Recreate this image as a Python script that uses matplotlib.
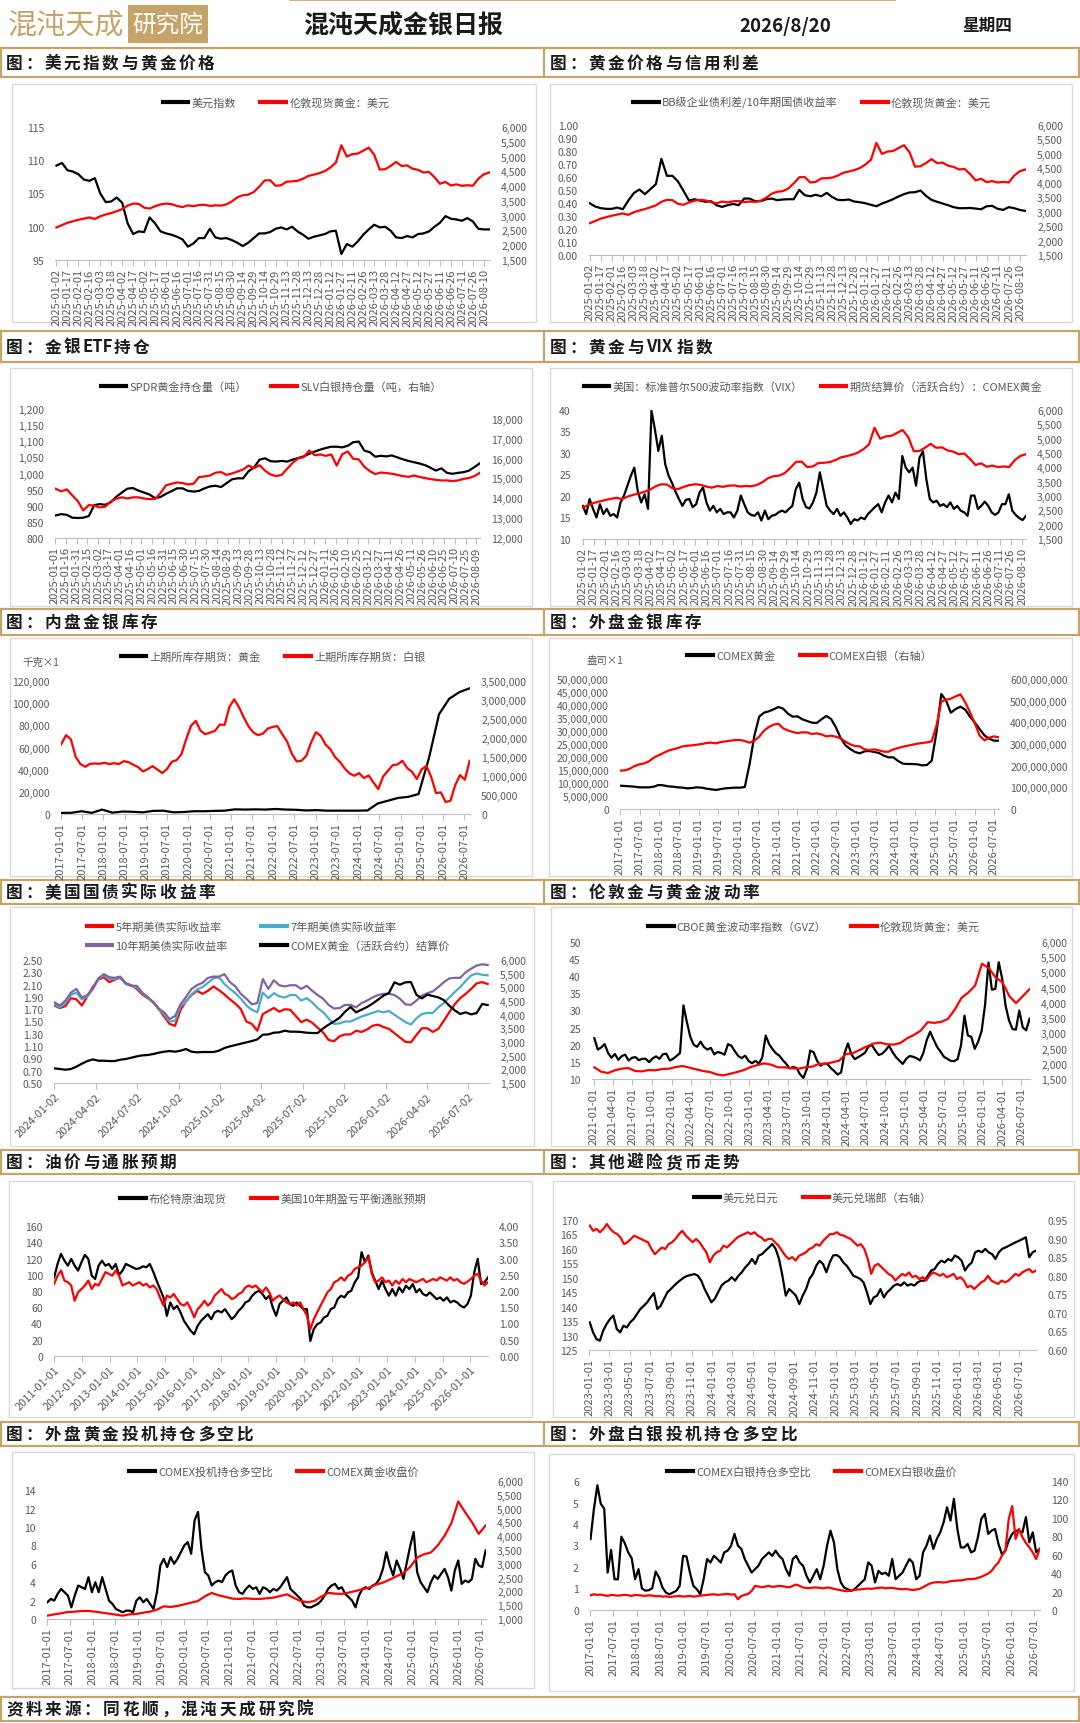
import matplotlib
matplotlib.use("Agg")
import matplotlib.pyplot as plt
import matplotlib.dates as mdates
from matplotlib.ticker import FuncFormatter
from matplotlib.lines import Line2D
from matplotlib.patches import Rectangle
import numpy as np
import pandas as pd
import re

plt.rcParams['font.family'] = ['Liberation Sans Narrow', 'Noto Sans CJK SC', 'DejaVu Sans']
CJK = ['Noto Sans CJK SC', 'DejaVu Sans']

# ---- data ----
gold_2025 = [2602, 2680, 2760, 2810, 2860, 2900, 2940, 2890, 2980, 3040,
             3090, 3150, 3220, 3340, 3410, 3400, 3270, 3240, 3320, 3380,
             3410, 3390, 3330, 3290, 3350, 3320, 3360, 3370, 3330, 3350,
             3340, 3380, 3480, 3620, 3690, 3710, 3800, 3980, 4190, 4200,
             4010, 4030, 4150, 4160, 4180, 4250, 4346, 4390, 4440, 4510,
             4630, 4796, 5381, 5000, 5080, 5100, 5200, 5302, 5060, 4560,
             4571, 4684, 4819, 4680, 4700, 4590, 4550, 4460, 4480, 4300,
             4080, 4140, 4020, 4060, 4010, 4030, 4010, 4250, 4400, 4459]

dxy_2025 = [109.2, 109.6, 108.5, 108.3, 107.9, 107.1, 106.9, 107.3, 105.0, 103.7,
            103.8, 104.4, 103.6, 100.5, 98.9, 99.3, 99.2, 101.4, 100.5, 99.3,
            99.0, 98.8, 98.5, 98.1, 97.0, 97.5, 98.3, 98.3, 99.7, 98.4,
            98.2, 98.3, 98.0, 97.6, 97.1, 97.6, 98.3, 99.0, 99.0, 99.2,
            99.7, 99.9, 99.6, 100.0, 99.3, 98.8, 98.2, 98.5, 98.7, 98.9,
            99.3, 99.4, 95.9, 97.4, 97.0, 97.8, 98.8, 99.6, 100.3, 99.9,
            100.0, 99.4, 98.4, 98.3, 98.6, 98.4, 98.9, 99.0, 99.3, 100.0,
            100.6, 101.6, 101.2, 101.1, 100.9, 101.3, 100.8, 99.7, 99.6, 99.6]

credit_spread = [0.398, 0.373, 0.360, 0.355, 0.355, 0.365, 0.352, 0.419, 0.476, 0.504,
                 0.468, 0.506, 0.545, 0.740, 0.609, 0.609, 0.566, 0.494, 0.419, 0.429,
                 0.419, 0.409, 0.414, 0.383, 0.370, 0.383, 0.393, 0.383, 0.434, 0.434,
                 0.414, 0.414, 0.429, 0.434, 0.422, 0.427, 0.429, 0.429, 0.501, 0.460,
                 0.452, 0.463, 0.452, 0.478, 0.445, 0.424, 0.422, 0.427, 0.411, 0.406,
                 0.398, 0.386, 0.375, 0.396, 0.411, 0.429, 0.450, 0.468, 0.481, 0.483,
                 0.496, 0.455, 0.424, 0.409, 0.396, 0.383, 0.368, 0.360, 0.360, 0.362,
                 0.357, 0.352, 0.375, 0.378, 0.355, 0.347, 0.368, 0.360, 0.347, 0.339]

spdr_gold = [870, 874, 872, 863, 862, 863, 868, 902, 905, 903, 911, 928, 941, 953, 955,
             947, 941, 935, 924, 927, 937, 945, 954, 954, 946, 944, 946, 954, 960, 962,
             958, 970, 982, 985, 985, 1007, 1019, 1043, 1047, 1038, 1037, 1039, 1037,
             1043, 1048, 1053, 1061, 1068, 1074, 1079, 1083, 1083, 1081, 1086, 1097,
             1099, 1071, 1066, 1052, 1055, 1053, 1056, 1050, 1044, 1039, 1035, 1031,
             1026, 1018, 1009, 1016, 1002, 999, 1002, 1004, 1009, 1020, 1032]

slv_silver = [14480, 14350, 14450, 14150, 13860, 13390, 13660, 13630, 13540, 13580,
              13840, 13980, 14050, 13990, 14050, 14050, 13990, 13960, 13960, 14260,
              14650, 14730, 14800, 14770, 14700, 14730, 15070, 15100, 15150, 15290,
              15320, 15180, 15250, 15350, 15450, 15650, 15520, 15670, 15390, 15200,
              15120, 15180, 15490, 15790, 16010, 16070, 16410, 16170, 16210, 16140,
              16210, 15650, 16220, 16360, 15990, 15960, 15590, 15370, 15220, 15300,
              15270, 15240, 15180, 15120, 15080, 15150, 15080, 15020, 14970, 14930,
              14900, 14900, 14870, 14900, 14980, 15020, 15120, 15290]

vix = [17.7, 15.8, 19.3, 17.0, 15.0, 18.1, 15.8, 17.0, 15.4, 15.8,
       15.0, 18.5, 20.1, 22.4, 24.7, 26.6, 21.2, 18.5, 20.4, 17.0,
       39.8, 35.5, 30.5, 34.0, 27.4, 24.7, 23.0, 21.0, 19.3, 17.7,
       19.1, 19.3, 17.4, 18.1, 20.8, 22.0, 18.5, 16.6, 17.7, 16.2,
       17.0, 15.8, 16.2, 16.2, 15.0, 16.6, 20.1, 18.1, 16.2, 15.6,
       15.4, 16.2, 14.3, 16.6, 14.6, 15.4, 15.6, 16.2, 16.6, 16.2,
       17.0, 17.7, 21.6, 23.1, 19.3, 17.4, 17.1, 18.5, 20.8, 25.5,
       21.6, 17.7, 16.6, 15.8, 17.0, 15.4, 16.2, 15.0, 13.5, 14.6,
       14.3, 15.0, 14.6, 15.8, 16.6, 17.4, 18.1, 16.2, 18.5, 20.1,
       18.5, 20.8, 19.3, 29.3, 26.6, 25.5, 26.6, 22.4, 28.9, 30.4,
       23.9, 19.3, 18.5, 18.9, 17.7, 18.1, 17.4, 18.5, 17.0, 17.7,
       16.6, 16.2, 15.4, 20.1, 20.1, 17.0, 17.7, 18.7, 17.7, 16.2,
       15.6, 16.2, 18.1, 18.1, 20.4, 16.6, 15.6, 14.9, 14.4, 15.4]

shfe_gold_stock = [1000, 1100, 2500, 1000, 4000, 1200, 2200, 2000, 1500, 2800,
                   3000, 1500, 1800, 2500, 2500, 2800, 3000, 4200, 4000, 4200,
                   4000, 4500, 4000, 3800, 3200, 3500, 3000, 3000, 3000, 3000,
                   3200, 9500, 12000, 14500, 15500, 18000, 50000, 90000, 104000, 110000,
                   113400]

shfe_silver_stock = [1838000, 2074000, 1969000, 1505000, 1313000, 1243000, 1321000, 1330000, 1321000, 1348000,
                     1313000, 1339000, 1313000, 1391000, 1365000, 1295000, 1234000, 1120000, 1181000, 1260000,
                     1173000, 1076000, 1181000, 1374000, 1418000, 1566000, 1969000, 2319000, 2450000, 2188000,
                     2100000, 2144000, 2188000, 2354000, 2345000, 2818000, 3019000, 2809000, 2538000, 2301000,
                     2144000, 2074000, 2118000, 2249000, 2293000, 2310000, 2100000, 1908000, 1584000, 1383000,
                     1400000, 1531000, 1881000, 2153000, 2056000, 1829000, 1706000, 1496000, 1374000, 1199000,
                     1068000, 1006000, 1076000, 945000, 1015000, 823000, 656000, 989000, 1138000, 1286000,
                     1304000, 1400000, 1208000, 1111000, 919000, 1173000, 1269000, 971000, 551000, 569000,
                     315000, 350000, 761000, 1024000, 901000, 1400000]

comex_gold_stock = [8.97e6, 8.85e6, 8.72e6, 8.59e6, 8.33e6, 8.33e6, 8.33e6, 8.59e6, 9.23e6, 9.10e6,
                    8.72e6, 8.59e6, 8.33e6, 8.21e6, 7.95e6, 8.08e6, 8.33e6, 8.21e6, 7.82e6, 7.56e6,
                    7.31e6, 7.69e6, 7.95e6, 8.08e6, 8.21e6, 8.21e6, 8.46e6, 17.31e6, 28.21e6, 35.51e6,
                    37.05e6, 37.56e6, 38.33e6, 39.23e6, 38.59e6, 36.67e6, 35.51e6, 35.64e6, 34.49e6, 33.85e6,
                    33.21e6, 33.08e6, 34.49e6, 35.77e6, 34.62e6, 31.41e6, 27.31e6, 24.49e6, 23.08e6, 21.92e6,
                    21.41e6, 22.18e6, 22.31e6, 21.92e6, 21.54e6, 20.51e6, 19.87e6, 19.87e6, 18.46e6, 17.44e6,
                    17.31e6, 17.31e6, 17.18e6, 16.79e6, 16.92e6, 18.59e6, 29.49e6, 44.23e6, 41.67e6, 37.05e6,
                    38.46e6, 39.36e6, 38.21e6, 35.51e6, 33.21e6, 30.77e6, 28.33e6, 27.05e6, 26.28e6, 26.28e6]

comex_silver_stock = [176.9e6, 178.4e6, 186.1e6, 198.4e6, 206.1e6, 210.7e6, 219.9e6, 236.9e6, 247.6e6, 258.4e6,
                      269.2e6, 275.3e6, 281.5e6, 289.1e6, 292.2e6, 293.8e6, 296.8e6, 299.9e6, 304.5e6, 306.1e6,
                      303.0e6, 309.1e6, 312.2e6, 315.3e6, 318.4e6, 318.4e6, 313.8e6, 306.1e6, 315.3e6, 333.7e6,
                      361.4e6, 378.3e6, 389.1e6, 393.7e6, 372.2e6, 363.0e6, 355.3e6, 350.7e6, 353.7e6, 353.7e6,
                      346.1e6, 349.1e6, 344.5e6, 335.3e6, 338.4e6, 333.7e6, 326.1e6, 310.7e6, 298.4e6, 290.7e6,
                      289.1e6, 275.3e6, 272.3e6, 275.3e6, 270.7e6, 264.5e6, 264.5e6, 275.3e6, 281.5e6, 287.6e6,
                      292.2e6, 296.8e6, 301.4e6, 304.5e6, 307.6e6, 312.2e6, 384.5e6, 495.2e6, 504.5e6, 509.1e6,
                      519.8e6, 529.1e6, 492.2e6, 446.0e6, 395.3e6, 338.4e6, 316.8e6, 329.1e6, 335.3e6, 330.7e6]

tips_5y = [1.76, 1.72, 1.75, 1.88, 1.86, 1.76, 1.91, 2.06, 2.18, 2.22,
           2.14, 2.18, 2.21, 2.12, 2.09, 2.03, 1.94, 1.88, 1.82, 1.71,
           1.58, 1.46, 1.43, 1.69, 1.83, 1.93, 2.00, 1.95, 2.00, 2.07,
           2.01, 1.94, 1.86, 1.79, 1.70, 1.50, 1.46, 1.35, 1.62, 1.67,
           1.72, 1.66, 1.70, 1.69, 1.59, 1.49, 1.53, 1.48, 1.40, 1.32,
           1.20, 1.18, 1.26, 1.29, 1.29, 1.35, 1.33, 1.37, 1.43, 1.45,
           1.41, 1.38, 1.31, 1.24, 1.17, 1.16, 1.28, 1.39, 1.39, 1.33,
           1.38, 1.51, 1.65, 1.78, 1.88, 1.95, 2.03, 2.12, 2.14, 2.11]

tips_7y = [1.78, 1.73, 1.80, 1.93, 1.97, 1.86, 1.91, 2.03, 2.19, 2.25,
           2.19, 2.19, 2.21, 2.11, 2.08, 2.05, 1.96, 1.89, 1.81, 1.70,
           1.62, 1.50, 1.51, 1.75, 1.82, 1.94, 2.02, 2.06, 2.13, 2.20,
           2.22, 2.11, 2.03, 1.96, 1.87, 1.76, 1.69, 1.65, 1.97, 1.88,
           1.96, 1.91, 1.89, 1.93, 1.93, 1.84, 1.88, 1.81, 1.72, 1.65,
           1.55, 1.46, 1.47, 1.50, 1.50, 1.54, 1.58, 1.61, 1.64, 1.67,
           1.65, 1.67, 1.61, 1.55, 1.49, 1.45, 1.55, 1.62, 1.64, 1.64,
           1.73, 1.80, 1.89, 1.98, 2.06, 2.16, 2.25, 2.28, 2.26, 2.25]

tips_10y = [1.81, 1.76, 1.84, 1.97, 2.03, 1.89, 1.93, 2.03, 2.20, 2.27,
            2.22, 2.21, 2.23, 2.12, 2.08, 2.08, 1.97, 1.90, 1.81, 1.71,
            1.65, 1.54, 1.59, 1.78, 1.90, 2.03, 2.09, 2.13, 2.21, 2.23,
            2.23, 2.27, 2.14, 2.07, 1.95, 1.87, 1.78, 1.80, 2.19, 2.03,
            2.17, 2.09, 2.07, 2.09, 2.09, 2.03, 2.08, 2.00, 1.93, 1.87,
            1.77, 1.71, 1.72, 1.77, 1.77, 1.73, 1.80, 1.84, 1.89, 1.93,
            1.95, 1.95, 1.93, 1.87, 1.78, 1.77, 1.84, 1.92, 1.96, 1.99,
            2.06, 2.14, 2.20, 2.21, 2.21, 2.30, 2.36, 2.41, 2.43, 2.42]

comex_gold_2024 = [2035, 2011, 1986, 2011, 2096, 2206, 2303, 2364, 2316, 2316,
                   2303, 2303, 2352, 2377, 2425, 2474, 2511, 2523, 2560, 2608,
                   2645, 2669, 2645, 2682, 2743, 2645, 2621, 2633, 2633, 2633,
                   2682, 2779, 2840, 2889, 2938, 2987, 3035, 3096, 3267, 3279,
                   3340, 3353, 3414, 3377, 3377, 3365, 3340, 3328, 3328, 3499,
                   3633, 3755, 3889, 4109, 4280, 4085, 4182, 4280, 4402, 4548,
                   4695, 4792, 5183, 5097, 5183, 5195, 4731, 4597, 4731, 4682,
                   4634, 4536, 4329, 4158, 4024, 4085, 4011, 4060, 4390, 4353]

gvz = [21.9, 18.6, 19.2, 20.2, 17.6, 16.2, 17.3, 15.6, 16.7, 17.1,
       15.4, 16.2, 16.4, 15.5, 15.9, 15.9, 14.9, 16.0, 16.6, 15.9,
       17.2, 17.4, 15.4, 15.9, 16.7, 17.6, 31.5, 26.6, 22.3, 20.0,
       19.4, 20.9, 19.3, 18.6, 19.1, 17.2, 17.9, 17.6, 17.1, 20.2,
       19.7, 18.1, 16.7, 16.1, 16.8, 15.3, 14.6, 15.3, 14.5, 16.3,
       22.7, 20.2, 18.7, 17.5, 16.8, 15.5, 14.4, 13.1, 13.5, 13.2,
       11.4, 10.3, 12.9, 18.3, 17.8, 15.3, 13.9, 14.5, 14.4, 13.2,
       12.3, 11.3, 11.9, 17.5, 20.4, 17.2, 15.8, 16.4, 17.0, 17.7,
       19.5, 19.9, 18.3, 17.0, 17.4, 18.4, 19.7, 17.9, 16.4, 15.4,
       14.4, 15.9, 16.7, 16.5, 16.1, 15.4, 17.6, 21.4, 23.8, 21.5,
       19.4, 18.0, 16.5, 15.9, 15.3, 15.2, 15.8, 19.9, 28.5, 22.7,
       22.3, 18.8, 20.9, 24.0, 31.5, 44.0, 36.1, 36.3, 44.1, 39.3,
       31.4, 27.1, 24.6, 24.4, 30.0, 25.1, 24.2, 27.6]

gold_2021 = [1883, 1740, 1696, 1784, 1839, 1861, 1762, 1751, 1795, 1784,
             1828, 1839, 1894, 1926, 1872, 1817, 1762, 1729, 1652, 1619,
             1674, 1729, 1795, 1894, 1959, 2014, 1970, 1883, 1883, 1850,
             1839, 1883, 1905, 1992, 2003, 2047, 2102, 2322, 2344, 2454,
             2563, 2662, 2695, 2640, 2629, 2684, 2838, 2948, 3090, 3365,
             3343, 3376, 3475, 3782, 4166, 4342, 4573, 5286, 5144, 4836,
             4682, 4232, 3991, 4221, 4453]

brent = [96.8, 113.3, 125.7, 117.4, 111.2, 119.5, 111.2, 105.1, 115.4, 124.4,
         119.5, 98.9, 94.8, 111.2, 117.4, 111.2, 113.3, 107.1, 113.3, 99.7,
         105.1, 113.3, 111.2, 109.2, 107.1, 107.9, 110.4, 109.2, 113.3, 103.8,
         92.7, 82.4, 72.1, 49.4, 65.9, 57.7, 61.8, 53.6, 43.3, 37.1,
         30.9, 26.8, 37.1, 43.3, 47.4, 51.5, 45.3, 53.6, 55.6, 53.6,
         57.7, 51.5, 45.3, 49.4, 55.6, 59.7, 65.9, 68.0, 74.2, 78.3,
         80.3, 76.2, 70.0, 74.2, 59.7, 49.4, 63.9, 68.0, 72.1, 63.9,
         61.8, 65.9, 61.8, 57.7, 57.7, 18.5, 33.0, 39.1, 41.2, 47.4,
         49.4, 57.7, 59.7, 70.0, 74.2, 72.1, 78.3, 80.3, 90.6, 96.8,
         127.7, 115.4, 123.6, 103.0, 92.7, 82.4, 92.7, 82.4, 74.2, 82.4,
         74.2, 84.5, 78.3, 86.5, 82.4, 88.6, 78.3, 82.4, 76.2, 74.2,
         78.3, 74.2, 70.0, 72.1, 68.0, 72.1, 65.9, 68.0, 65.9, 61.8,
         59.7, 63.9, 74.2, 103.0, 119.5, 88.6, 90.6, 96.8]

breakeven_10y = [2.22, 2.47, 2.63, 2.32, 2.27, 2.17, 1.70, 1.96, 2.06, 2.17,
                 2.32, 2.06, 2.22, 2.17, 2.37, 2.58, 2.53, 2.47, 2.63, 2.47,
                 2.17, 2.22, 2.27, 2.17, 2.22, 2.27, 2.17, 2.22, 2.11, 2.17,
                 2.06, 1.80, 1.55, 1.86, 1.80, 1.91, 1.75, 1.60, 1.55, 1.65,
                 1.44, 1.19, 1.44, 1.55, 1.70, 1.55, 1.65, 1.86, 1.96, 2.06,
                 1.91, 1.86, 1.75, 1.80, 1.91, 1.96, 2.11, 2.17, 2.11, 2.17,
                 2.06, 1.96, 2.11, 1.96, 1.70, 1.80, 1.86, 1.75, 1.65, 1.60,
                 1.65, 1.55, 1.65, 1.44, 1.24, 0.82, 1.13, 1.34, 1.55, 1.75,
                 1.96, 2.06, 2.27, 2.32, 2.42, 2.32, 2.47, 2.53, 2.68, 2.73,
                 2.78, 2.89, 3.04, 2.53, 2.27, 2.32, 2.42, 2.27, 2.32, 2.17,
                 2.32, 2.22, 2.37, 2.27, 2.37, 2.32, 2.27, 2.32, 2.37, 2.27,
                 2.32, 2.37, 2.32, 2.42, 2.37, 2.32, 2.42, 2.32, 2.37, 2.27,
                 2.22, 2.29, 2.37, 2.47, 2.53, 2.32, 2.17, 2.27]

usdjpy = [134.6, 131.1, 128.8, 128.2, 131.7, 134.0, 135.7, 136.9, 132.3, 131.1,
          133.4, 132.8, 134.6, 135.7, 137.5, 139.2, 140.3, 141.5, 143.2, 144.7,
          139.2, 140.3, 142.7, 145.0, 146.1, 147.3, 148.4, 149.3, 150.2, 150.7,
          151.0, 151.3, 150.7, 149.0, 146.1, 143.8, 141.5, 142.7, 145.0, 147.3,
          148.4, 149.0, 150.2, 149.0, 150.7, 151.9, 153.6, 154.8, 156.5, 154.8,
          157.7, 158.2, 159.4, 160.5, 161.7, 160.0, 156.5, 150.7, 143.8, 146.1,
          145.0, 143.8, 140.9, 143.8, 146.1, 149.6, 151.3, 154.2, 155.9, 154.8,
          151.9, 155.3, 157.7, 157.9, 157.1, 155.3, 154.2, 152.5, 150.7, 150.2,
          149.6, 148.4, 145.0, 140.9, 143.2, 143.8, 146.1, 143.2, 145.0, 146.1,
          147.3, 147.8, 147.3, 148.4, 147.3, 147.8, 147.3, 148.4, 149.0, 149.0,
          150.7, 152.5, 153.0, 154.8, 155.9, 155.3, 156.5, 155.9, 157.7, 157.1,
          155.9, 152.5, 154.2, 155.3, 158.8, 159.4, 158.8, 160.0, 158.8, 158.2,
          156.5, 158.8, 160.0, 160.5, 161.1, 161.7, 162.3, 162.8, 163.4, 164.0,
          157.1, 158.8, 159.4]

usdchf = [0.935, 0.921, 0.926, 0.917, 0.926, 0.939, 0.926, 0.917, 0.912, 0.903,
          0.885, 0.890, 0.899, 0.908, 0.903, 0.899, 0.894, 0.890, 0.872, 0.858,
          0.867, 0.876, 0.872, 0.885, 0.890, 0.899, 0.912, 0.921, 0.908, 0.899,
          0.890, 0.899, 0.890, 0.876, 0.863, 0.836, 0.854, 0.863, 0.867, 0.881,
          0.876, 0.885, 0.894, 0.903, 0.908, 0.912, 0.917, 0.912, 0.917, 0.908,
          0.903, 0.894, 0.899, 0.899, 0.890, 0.881, 0.867, 0.854, 0.845, 0.850,
          0.841, 0.854, 0.858, 0.863, 0.872, 0.876, 0.885, 0.881, 0.894, 0.903,
          0.912, 0.912, 0.917, 0.910, 0.908, 0.903, 0.899, 0.890, 0.881, 0.885,
          0.872, 0.845, 0.805, 0.827, 0.832, 0.823, 0.814, 0.805, 0.800, 0.787,
          0.796, 0.805, 0.800, 0.809, 0.796, 0.800, 0.791, 0.796, 0.787, 0.800,
          0.809, 0.805, 0.800, 0.805, 0.796, 0.800, 0.805, 0.791, 0.796, 0.787,
          0.769, 0.773, 0.764, 0.773, 0.782, 0.787, 0.800, 0.787, 0.782, 0.778,
          0.787, 0.782, 0.787, 0.796, 0.805, 0.800, 0.809, 0.814, 0.818, 0.809,
          0.814]

gold_cot_ratio = [1.82, 2.18, 2.00, 2.73, 3.27, 2.91, 2.55, 1.27, 2.55, 3.64,
                  3.45, 3.27, 4.55, 2.91, 4.00, 2.91, 4.55, 3.27, 2.00, 1.64,
                  1.09, 0.91, 0.73, 0.91, 0.91, 0.73, 2.00, 2.36, 1.82, 2.18,
                  1.64, 1.09, 2.91, 5.82, 6.54, 5.64, 6.73, 6.00, 6.54, 7.27,
                  8.00, 8.36, 7.09, 10.73, 11.64, 7.64, 5.09, 4.73, 3.64, 4.00,
                  4.18, 4.00, 4.73, 5.09, 5.27, 3.64, 2.91, 2.73, 3.27, 3.64,
                  3.27, 3.45, 2.73, 3.45, 3.27, 2.91, 3.27, 3.09, 3.45, 4.00,
                  4.55, 3.27, 2.91, 2.55, 2.18, 1.45, 1.27, 1.27, 1.45, 1.64,
                  2.00, 2.55, 3.27, 3.64, 3.82, 3.27, 3.45, 2.73, 2.36, 2.00,
                  1.27, 2.55, 3.27, 3.45, 3.27, 3.64, 3.82, 4.36, 5.45, 7.27,
                  5.82, 4.73, 6.36, 5.45, 4.36, 6.18, 8.00, 9.45, 5.09, 4.00,
                  3.45, 2.91, 4.00, 4.73, 4.36, 4.91, 5.45, 4.55, 3.09, 5.27,
                  6.36, 3.82, 4.18, 4.00, 4.36, 6.54, 5.82, 5.64, 7.45]

comex_gold_close = [1121, 1169, 1206, 1254, 1266, 1290, 1290, 1266, 1230, 1194,
                    1157, 1121, 1169, 1182, 1230, 1266, 1339, 1460, 1436, 1472,
                    1532, 1593, 1653, 1823, 1944, 1859, 1799, 1738, 1726, 1750,
                    1726, 1726, 1750, 1774, 1835, 1895, 1762, 1653, 1605, 1653,
                    1811, 1944, 1920, 1908, 1956, 2016, 2077, 2137, 2246, 2319,
                    2428, 2549, 2670, 2888, 3226, 3347, 3408, 3662, 4013, 4473,
                    5259, 4872, 4509, 4086, 4388]

silver_cot_ratio = [3.30, 4.71, 5.80, 4.94, 4.71, 1.74, 2.79, 1.43, 1.43, 3.41,
                    3.10, 2.68, 2.41, 1.43, 1.90, 1.00, 0.90, 0.92, 1.01, 1.79,
                    1.51, 1.04, 0.81, 0.73, 0.81, 0.89, 1.12, 2.52, 2.49, 1.74,
                    1.12, 0.97, 0.73, 1.43, 2.37, 2.21, 2.52, 2.37, 2.21, 2.68,
                    2.76, 2.99, 3.54, 2.99, 2.84, 2.37, 2.06, 1.74, 1.90, 2.06,
                    2.37, 2.52, 2.68, 2.52, 2.76, 2.52, 2.37, 1.90, 1.59, 2.37,
                    2.52, 2.21, 2.06, 1.59, 1.28, 1.59, 1.90, 1.43, 2.06, 2.99,
                    3.69, 3.15, 1.90, 1.28, 1.04, 0.97, 0.89, 0.97, 1.12, 1.28,
                    1.43, 2.21, 2.06, 1.28, 1.82, 1.67, 1.74, 1.59, 2.37, 1.43,
                    1.59, 1.74, 2.06, 2.37, 2.21, 1.43, 1.59, 2.68, 2.99, 3.46,
                    2.84, 3.30, 3.61, 4.08, 4.78, 4.16, 5.17, 3.77, 2.91, 2.91,
                    3.07, 2.68, 2.76, 3.38, 4.24, 4.47, 3.54, 3.69, 3.77, 3.07,
                    2.60, 2.76, 3.23, 3.54, 3.69, 3.69, 3.61, 4.32, 3.15, 3.61,
                    2.68, 2.84]

comex_silver_close = [16.0, 17.1, 16.4, 16.7, 16.0, 15.3, 16.4, 16.0, 15.6, 16.0,
                      16.4, 16.0, 15.3, 16.4, 16.0, 15.6, 15.3, 16.0, 15.6, 14.9,
                      15.3, 14.5, 14.9, 14.2, 14.5, 14.9, 15.3, 14.5, 14.9, 15.3,
                      14.5, 14.9, 15.6, 16.0, 16.4, 16.7, 17.1, 16.4, 16.7, 17.1,
                      17.5, 16.7, 17.1, 11.6, 15.3, 16.4, 17.5, 20.7, 26.2, 25.5,
                      24.7, 25.5, 26.2, 25.1, 25.5, 26.2, 25.8, 25.1, 24.7, 26.2,
                      27.6, 26.2, 24.4, 24.0, 23.6, 24.4, 24.4, 24.0, 23.6, 24.4,
                      24.0, 22.9, 22.2, 21.5, 20.7, 20.4, 21.1, 21.8, 22.2, 22.5,
                      22.9, 23.3, 22.9, 23.6, 24.0, 24.4, 23.6, 24.0, 24.0, 23.3,
                      22.9, 22.5, 22.9, 22.2, 21.8, 22.2, 22.9, 24.7, 26.9, 28.7,
                      29.8, 30.2, 30.2, 29.8, 30.2, 31.3, 31.6, 32.0, 32.0, 32.7,
                      33.5, 33.5, 33.8, 34.9, 36.0, 37.8, 39.6, 42.5, 47.6, 51.6,
                      58.9, 64.4, 98.9, 112.7, 77.1, 88.0, 78.9, 72.7, 68.0, 62.5,
                      55.3, 66.2]

# ---- styles ----
W, H = 1080, 1724
TAN = '#C6A469'
TICK = '#595959'
AXIS_C = '#BFBFBF'
BOX_C = '#D9D9D9'
RED = '#FF0000'
BLACK = '#000000'
CYAN = '#4BACC6'
PURPLE = '#8064A2'

fig = plt.figure(figsize=(W / 100, H / 100), dpi=100)
bg = fig.add_axes([0, 0, 1, 1])
bg.set_xlim(0, W)
bg.set_ylim(H, 0)
bg.axis('off')


def num(d):
    return mdates.date2num(pd.Timestamp(d).to_pydatetime())


def dates(start, end, n):
    return mdates.date2num(pd.date_range(start, end, periods=n).to_pydatetime())


def panel(l, t, r, b, lo, hi):
    ax = fig.add_axes([l / W, 1 - b / H, (r - l) / W, (b - t) / H])
    ax2 = ax.twinx()
    for a in (ax, ax2):
        a.patch.set_visible(False)
        for s in a.spines.values():
            s.set_visible(False)
        a.tick_params(axis='y', length=0, labelsize=7.5, labelcolor=TICK, pad=8)
    ax.spines['bottom'].set_visible(True)
    ax.spines['bottom'].set_color(AXIS_C)
    ax.spines['bottom'].set_linewidth(0.8)
    ax.tick_params(axis='x', length=4, width=0.8, color=AXIS_C, labelsize=8,
                   labelcolor=TICK, pad=2)
    ax.set_xlim(num(lo), num(hi))
    return ax, ax2


def xdates(ax, ticks, rot=90):
    ax.set_xticks(mdates.date2num(pd.DatetimeIndex(ticks).to_pydatetime()))
    labels = [pd.Timestamp(d).strftime('%Y-%m-%d') for d in ticks]
    if rot == 90:
        ax.set_xticklabels(labels, rotation=90, ha='center', va='top')
    else:
        ax.set_xticklabels(labels, rotation=45, ha='right', va='top',
                           rotation_mode='anchor')


def yaxis(a, lo, hi, step, fmt, top=None):
    a.set_ylim(lo, hi if top is None else top)
    a.set_yticks(np.arange(lo, hi + step / 2, step))
    a.yaxis.set_major_formatter(FuncFormatter(lambda v, p: fmt.format(v)))


def legend(ax, items, cx, cy, ncol=2, **kw):
    handles = [Line2D([], [], color=c, lw=3) for c, _ in items]
    opts = dict(loc='center', bbox_to_anchor=(cx / W, 1 - cy / H),
                bbox_transform=fig.transFigure, ncol=ncol, frameon=False,
                fontsize=8, labelcolor=TICK, handlelength=2.3,
                handletextpad=0.3, columnspacing=2.2, borderaxespad=0,
                borderpad=0)
    opts.update(kw)
    ax.legend(handles, [lab for _, lab in items], **opts)


def line(a, x, y, c):
    a.plot(x, y, color=c, lw=1.6, solid_joinstyle='round')


def spaced(x, y, s, step, size):
    # the report spaces its heading glyphs out; latin runs stay together
    for tok in re.findall(r'[A-Za-z0-9]+|.', s):
        bg.text(x, y, tok, fontsize=size, weight='bold', va='center',
                family=CJK, color='#1A1A1A')
        x += step if len(tok) == 1 and not tok.isascii() else 9.5 * len(tok) + 2


# ---- page frame ----
bg.plot([290, 895], [1, 1], color=TAN, lw=1.2)
bands = [(49, 78), (332, 363), (610, 636), (881, 905), (1151, 1175), (1423, 1447)]
titles = [('图：美元指数与黄金价格', '图：黄金价格与信用利差'),
          ('图：金银ETF持仓', '图：黄金与VIX指数'),
          ('图：内盘金银库存', '图：外盘金银库存'),
          ('图：美国国债实际收益率', '图：伦敦金与黄金波动率'),
          ('图：油价与通胀预期', '图：其他避险货币走势'),
          ('图：外盘黄金投机持仓多空比', '图：外盘白银投机持仓多空比')]
for (t0, t1), (lt, rt) in zip(bands, titles):
    bg.plot([0, W], [t0, t0], color=TAN, lw=1.6)
    bg.plot([0, W], [t1, t1], color=TAN, lw=1.6)
    for xv in (1, 544, W - 1):
        bg.plot([xv, xv], [t0, t1], color=TAN, lw=1.6)
    spaced(6, (t0 + t1) / 2, lt, 19.2, 12)
    spaced(550, (t0 + t1) / 2, rt, 19.2, 12)

bg.plot([0, W], [1698, 1698], color=TAN, lw=1.6)
bg.plot([0, W], [1722, 1722], color=TAN, lw=1.6)
bg.plot([1, 1], [1698, 1722], color=TAN, lw=1.6)
bg.plot([W - 1, W - 1], [1698, 1722], color=TAN, lw=1.6)
spaced(6, 1710, '资料来源：同花顺，混沌天成研究院', 19.4, 12)

# header
bg.text(8, 25, '混沌天成', fontsize=21, color=TAN, va='center', family=CJK)
bg.add_patch(Rectangle((128, 6), 80, 38, facecolor=TAN, edgecolor='none'))
bg.text(168, 25, '研究院', fontsize=17, color='white', ha='center', va='center',
        family=CJK)
bg.text(403, 26, '混沌天成金银日报', fontsize=18, weight='bold', ha='center',
        va='center', family=CJK, color='#1A1A1A')
bg.text(785, 26, '2026/8/20', fontsize=13.5, weight='bold', ha='center',
        va='center', color='#1A1A1A')
bg.text(987, 26, '星期四', fontsize=12, weight='bold', ha='center', va='center',
        family=CJK, color='#1A1A1A')

# chart boxes
for (l, t, r, b) in [(12, 85, 536, 323), (550, 85, 1072, 323),
                     (10, 369, 532, 607), (550, 369, 1072, 607),
                     (10, 639, 532, 877), (549, 639, 1072, 877),
                     (10, 908, 534, 1147), (551, 908, 1072, 1147),
                     (9, 1182, 532, 1418), (553, 1182, 1074, 1418),
                     (12, 1453, 534, 1689), (549, 1455, 1074, 1692)]:
    bg.add_patch(Rectangle((l, t), r - l, b - t, facecolor='white',
                           edgecolor=BOX_C, lw=1))

ticks_a = pd.date_range('2025-01-02', periods=40, freq='15D')
ticks_b = pd.date_range('2025-01-01', periods=40, freq='15D')
ticks_half = pd.date_range('2017-01-01', '2026-07-01', freq='6MS')

# 1. DXY vs gold
ax, ax2 = panel(55, 128, 490, 261, '2024-12-31', '2026-08-18')
line(ax, dates('2025-01-02', '2026-08-17', len(dxy_2025)), dxy_2025, BLACK)
line(ax2, dates('2025-01-02', '2026-08-17', len(gold_2025)), gold_2025, RED)
yaxis(ax, 95, 115, 5, '{:.0f}')
yaxis(ax2, 1500, 6000, 500, '{:,.0f}')
xdates(ax, ticks_a)
legend(ax2, [(BLACK, '美元指数'), (RED, '伦敦现货黄金：美元')], 276, 103)

# 2. credit spread vs gold
ax, ax2 = panel(589, 126, 1026, 256, '2025-01-01', '2026-08-18')
line(ax, dates('2025-01-02', '2026-08-17', len(credit_spread)), credit_spread, BLACK)
line(ax2, dates('2025-01-02', '2026-08-17', len(gold_2025)), gold_2025, RED)
yaxis(ax, 0, 1.0, 0.1, '{:.2f}')
yaxis(ax2, 1500, 6000, 500, '{:,.0f}')
xdates(ax, ticks_a)
legend(ax2, [(BLACK, 'BB级企业债利差/10年期国债收益率'), (RED, '伦敦现货黄金：美元')], 812, 103)

# 3. ETF holdings
ax, ax2 = panel(55, 410, 480, 539, '2025-01-01', '2026-08-14')
line(ax, dates('2025-01-02', '2026-08-14', len(spdr_gold)), spdr_gold, BLACK)
line(ax2, dates('2025-01-02', '2026-08-14', len(slv_silver)), slv_silver, RED)
yaxis(ax, 800, 1200, 50, '{:,.0f}')
yaxis(ax2, 12000, 18000, 1000, '{:,.0f}', top=18500)
xdates(ax, ticks_b)
legend(ax2, [(BLACK, 'SPDR黄金持仓量（吨）'), (RED, 'SLV白银持仓量（吨，右轴）')], 271, 387)

# 4. VIX vs COMEX gold
ax, ax2 = panel(582, 411, 1026, 540, '2025-01-01', '2026-08-15')
line(ax, dates('2025-01-02', '2026-08-15', len(vix)), vix, BLACK)
line(ax2, dates('2025-01-02', '2026-08-15', len(gold_2025)), gold_2025, RED)
yaxis(ax, 10, 40, 5, '{:.0f}')
yaxis(ax2, 1500, 6000, 500, '{:,.0f}')
xdates(ax, ticks_a)
legend(ax2, [(BLACK, '美国：标准普尔500波动率指数（VIX）'),
             (RED, '期货结算价（活跃合约）：COMEX黄金')], 813, 388, columnspacing=1.6)

# 5. SHFE stocks
ax, ax2 = panel(61, 682, 470, 815, '2017-01-01', '2026-08-18')
line(ax, dates('2017-01-03', '2026-08-15', len(shfe_gold_stock)), shfe_gold_stock, BLACK)
line(ax2, dates('2017-01-03', '2026-08-15', len(shfe_silver_stock)), shfe_silver_stock, RED)
yaxis(ax, 0, 120000, 20000, '{:,.0f}')
yaxis(ax2, 0, 3500000, 500000, '{:,.0f}')
xdates(ax, ticks_half)
legend(ax2, [(BLACK, '上期所库存期货：黄金'), (RED, '上期所库存期货：白银')], 273, 658)
bg.text(41, 663, '千克×1', fontsize=7.5, color=TICK, ha='center', va='center')

# 6. COMEX stocks
ax, ax2 = panel(620, 680, 999, 810, '2017-01-01', '2026-08-16')
line(ax, dates('2017-01-03', '2026-08-14', len(comex_gold_stock)), comex_gold_stock, BLACK)
line(ax2, dates('2017-01-03', '2026-08-14', len(comex_silver_stock)), comex_silver_stock, RED)
yaxis(ax, 0, 50000000, 5000000, '{:,.0f}')
yaxis(ax2, 0, 600000000, 100000000, '{:,.0f}')
xdates(ax, ticks_half)
legend(ax2, [(BLACK, 'COMEX黄金'), (RED, 'COMEX白银（右轴）')], 810, 657)
bg.text(605, 661, '盎司×1', fontsize=7.5, color=TICK, ha='center', va='center')

# 7. real yields
ax, ax2 = panel(54, 961, 489, 1084, '2024-01-01', '2026-08-17')
line(ax, dates('2024-01-02', '2026-08-14', len(tips_5y)), tips_5y, RED)
line(ax, dates('2024-01-02', '2026-08-14', len(tips_7y)), tips_7y, CYAN)
line(ax, dates('2024-01-02', '2026-08-14', len(tips_10y)), tips_10y, PURPLE)
line(ax2, dates('2024-01-02', '2026-08-14', len(comex_gold_2024)), comex_gold_2024, BLACK)
yaxis(ax, 0.5, 2.5, 0.2, '{:.2f}')
yaxis(ax2, 1500, 6000, 500, '{:,.0f}')
xdates(ax, [pd.Timestamp('2024-01-02') + pd.DateOffset(months=3 * i) for i in range(11)], rot=45)
legend(ax2, [(RED, '5年期美债实际收益率'), (PURPLE, '10年期美债实际收益率'),
             (CYAN, '7年期美债实际收益率'), (BLACK, 'COMEX黄金（活跃合约）结算价')],
       268, 937, labelspacing=0.8, columnspacing=3.0)

# 8. GVZ vs gold
ax, ax2 = panel(592, 943, 1030, 1080, '2020-12-24', '2026-08-10')
line(ax, dates('2021-01-04', '2026-08-08', len(gvz)), gvz, BLACK)
line(ax2, dates('2021-01-04', '2026-08-08', len(gold_2021)), gold_2021, RED)
yaxis(ax, 10, 50, 5, '{:.0f}')
yaxis(ax2, 1500, 6000, 500, '{:,.0f}')
xdates(ax, pd.date_range('2021-01-01', '2026-07-01', freq='3MS'))
legend(ax2, [(BLACK, 'CBOE黄金波动率指数（GVZ）'), (RED, '伦敦现货黄金：美元')], 814, 927)

# 9. oil vs breakeven
ax, ax2 = panel(54, 1227, 488, 1357, '2011-01-01', '2026-08-20')
line(ax, dates('2011-01-03', '2026-08-19', len(brent)), brent, BLACK)
line(ax2, dates('2011-01-03', '2026-08-19', len(breakeven_10y)), breakeven_10y, RED)
yaxis(ax, 0, 160, 20, '{:.0f}')
yaxis(ax2, 0, 4, 0.5, '{:.2f}')
xdates(ax, pd.date_range('2011-01-01', '2026-01-01', freq='YS'), rot=45)
legend(ax2, [(BLACK, '布伦特原油现货'), (RED, '美国10年期盈亏平衡通胀预期')], 273, 1199)

# 10. JPY & CHF
ax, ax2 = panel(589, 1221, 1036, 1351, '2022-12-31', '2026-08-19')
line(ax, dates('2023-01-02', '2026-08-19', len(usdjpy)), usdjpy, BLACK)
line(ax2, dates('2023-01-02', '2026-08-19', len(usdchf)), usdchf, RED)
yaxis(ax, 125, 170, 5, '{:.0f}')
yaxis(ax2, 0.60, 0.95, 0.05, '{:.2f}')
xdates(ax, pd.date_range('2023-01-01', '2026-07-01', freq='2MS'))
legend(ax2, [(BLACK, '美元兑日元'), (RED, '美元兑瑞郎（右轴）')], 813, 1198)

# 11. gold COT ratio
ax, ax2 = panel(47, 1482, 486, 1620, '2016-12-31', '2026-08-10')
line(ax, dates('2017-01-03', '2026-08-07', len(gold_cot_ratio)), gold_cot_ratio, BLACK)
line(ax2, dates('2017-01-03', '2026-08-07', len(comex_gold_close)), comex_gold_close, RED)
yaxis(ax, 0, 14, 2, '{:.0f}', top=15)
yaxis(ax2, 1000, 6000, 500, '{:,.0f}')
xdates(ax, ticks_half)
legend(ax2, [(BLACK, 'COMEX投机持仓多空比'), (RED, 'COMEX黄金收盘价')], 274, 1472)

# 12. silver COT ratio
ax, ax2 = panel(590, 1482, 1040, 1611, '2016-12-30', '2026-08-14')
line(ax, dates('2017-01-03', '2026-08-11', len(silver_cot_ratio)), silver_cot_ratio, BLACK)
line(ax2, dates('2017-01-03', '2026-08-11', len(comex_silver_close)), comex_silver_close, RED)
yaxis(ax, 0, 6, 1, '{:.0f}')
yaxis(ax2, 0, 140, 20, '{:.0f}')
xdates(ax, ticks_half)
legend(ax2, [(BLACK, 'COMEX白银持仓多空比'), (RED, 'COMEX白银收盘价')], 812, 1472)

fig.savefig('out.png', dpi=100)
